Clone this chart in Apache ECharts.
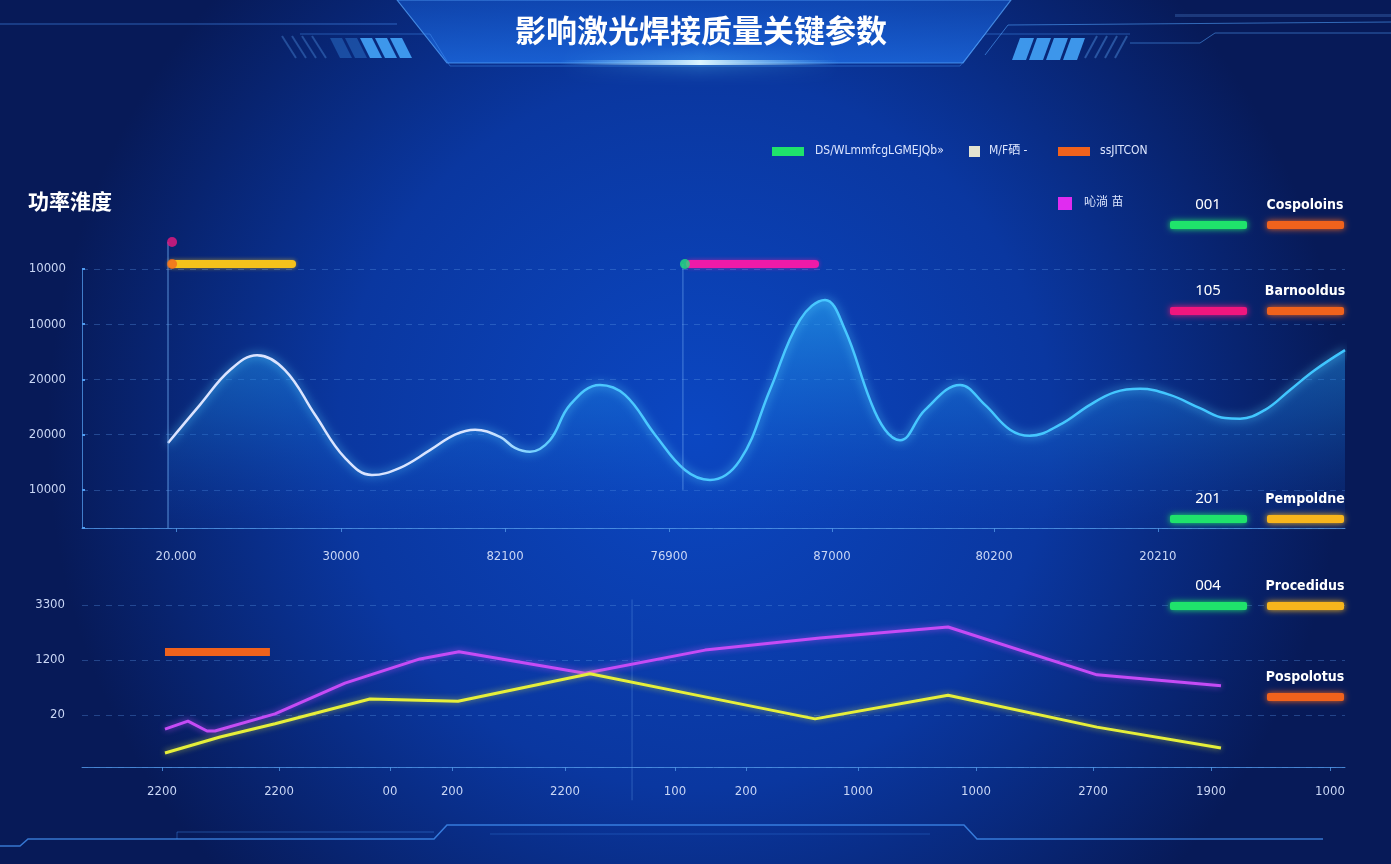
<!DOCTYPE html>
<html>
<head>
<meta charset="utf-8">
<script src="https://cdn.jsdelivr.net/npm/echarts@6/dist/echarts.min.js"></script>
<style>
html,body{margin:0;padding:0;background:#081d5e;}
#c{width:1391px;height:864px;}
</style>
</head>
<body>
<div id="c"></div>
<script>
// ---------- data ----------
const chartTitle = '影响激光焊接质量关键参数';
const subTitle = '功率淮度';

const legendNames = ['DS/WLmmfcgLGMEJQb»', 'M/F硒 -', 'ssJITCON', '吣淌 苗'];

// top chart (x in % of time span, y in axis units)
const topXTicks  = [7.44, 20.51, 33.49, 46.48, 59.38, 72.21, 85.19];
const topXLabels = ['20.000', '30000', '82100', '76900', '87000', '80200', '20210'];
const topYLabels = ['10000', '20000', '20000', '10000', '10000']; // values 1..5
const curveX = [6.81, 9.34, 11.72, 13.86, 16.07, 18.45, 20.82, 22.96, 25.18, 27.55, 29.53, 31.12, 33.10, 34.28,
                35.47, 37.05, 38.64, 41.01, 42.99, 45.37, 47.74, 49.72, 52.10, 54.47, 56.85, 58.83, 60.41, 62.39,
                63.58, 64.77, 66.75, 69.52, 71.50, 73.48, 75.06, 77.43, 79.81, 81.79, 83.77, 86.14, 88.52, 90.50,
                91.69, 93.67, 95.65, 97.62, 100];
const curveY = [1.85, 2.54, 3.17, 3.44, 3.17, 2.36, 1.58, 1.27, 1.40, 1.72, 2.00, 2.09, 1.96, 1.76,
                1.69, 1.90, 2.54, 2.90, 2.72, 2.00, 1.36, 1.18, 1.54, 2.81, 4.08, 4.44, 3.90, 2.63,
                2.09, 1.90, 2.45, 2.90, 2.54, 2.09, 1.98, 2.18, 2.54, 2.77, 2.83, 2.72, 2.48, 2.30,
                2.29, 2.45, 2.81, 3.17, 3.53];

// top annotations
const yellowBarX = [7.13, 16.63]; const yellowBarY = 5.09;
const magentaBarX = [48.14, 58.04]; const magentaBarY = 5.09;
const markerX = [7.13, 7.13, 47.74];
const markerY = [5.49, 5.09, 5.09];
const vLine1X = 6.81; const vLine1Y = [0.31, 5.49];
const vLine2X = 47.58; const vLine2Y = [1, 5.09];

// bottom chart
const botXTicks  = [6.33, 15.60, 24.39, 29.30, 38.24, 46.95, 52.57, 61.44, 70.78, 80.05, 89.39, 98.81];
const botXLabels = ['2200', '2200', '00', '200', '2200', '100', '200', '1000', '1000', '2700', '1900', '1000'];
const botYLabels = ['20', '1200', '3300']; // values 1..3
const purpleX = [6.57, 8.39, 9.90, 10.53, 15.28, 20.82, 26.76, 29.85, 39.83, 49.33, 58.43, 68.57, 80.36, 90.18];
const purpleY = [0.745, 0.89, 0.71, 0.71, 1.02, 1.58, 2.02, 2.15, 1.76, 2.18, 2.40, 2.60, 1.73, 1.53];
const yellowX = [6.57, 10.93, 15.28, 22.80, 29.77, 40.22, 49.33, 58.04, 68.57, 80.36, 90.18];
const yellowY = [0.31, 0.60, 0.84, 1.29, 1.25, 1.75, 1.33, 0.93, 1.36, 0.78, 0.40];
const orangeBarX = [6.57, 14.88]; const orangeBarY = 2.145;
const vLine3X = 43.55; const vLine3Y = [-0.55, 3.1];

// right panel
const panelNums  = ['001', '105', '201', '004', ''];
const panelNames = ['Cospoloins', 'Barnooldus', 'Pempoldne', 'Procedidus', 'Pospolotus'];
const panelColA  = ['#1fe36b', '#f0167e', '#1fe36b', '#1fe36b', null];
const panelColB  = ['#f0621c', '#f0621c', '#f7b51c', '#f7b51c', '#f0621c'];

// ---------- helpers ----------
const pairs = (xs, ys) => xs.map((x, i) => [x, ys[i]]);
const labelColor = '#c9d6f5';

const chart = echarts.init(document.getElementById('c'), null, {renderer: 'canvas'});

// ---------- graphic decorations ----------
const g = [];
// header panel
g.push({type: 'polygon', shape: {points: [[397, 0], [447, 63], [963, 63], [1011, 0]]},
  style: {fill: {type: 'linear', x: 0, y: 0, x2: 0, y2: 1, colorStops: [
    {offset: 0, color: 'rgba(20,90,210,0.55)'}, {offset: 1, color: 'rgba(30,110,230,0.75)'}]},
    stroke: 'rgba(90,170,255,0.7)', lineWidth: 1.2}, z: 1});
g.push({type: 'rect', shape: {x: 560, y: 60, width: 280, height: 5},
  style: {fill: {type: 'linear', x: 0, y: 0, x2: 1, y2: 0, colorStops: [
    {offset: 0, color: 'rgba(120,200,255,0)'}, {offset: 0.5, color: 'rgba(220,245,255,1)'}, {offset: 1, color: 'rgba(120,200,255,0)'}]},
    shadowBlur: 18, shadowColor: '#5fd0ff'}, z: 2});
// left header lines
g.push({type: 'polyline', shape: {points: [[0, 24], [397, 24]]}, style: {stroke: 'rgba(70,140,240,0.6)', lineWidth: 1}, z: 1});
g.push({type: 'polyline', shape: {points: [[300, 34], [430, 34], [450, 66], [960, 66], [985, 34], [1130, 34]]}, style: {stroke: 'rgba(70,150,250,0.45)', lineWidth: 1}, z: 1});
// left stripes
for (let i = 0; i < 5; i++) {
  const x = 330 + i * 15;
  g.push({type: 'polygon', shape: {points: [[x, 38], [x + 12, 38], [x + 22, 58], [x + 10, 58]]},
    style: {fill: i < 2 ? 'rgba(60,150,240,0.35)' : 'rgba(70,170,255,0.85)'}, z: 2});
}
for (let i = 0; i < 4; i++) {
  const x = 282 + i * 10;
  g.push({type: 'line', shape: {x1: x, y1: 36, x2: x + 14, y2: 58}, style: {stroke: 'rgba(90,160,240,0.35)', lineWidth: 2}, z: 2});
}
// right header lines
g.push({type: 'polyline', shape: {points: [[985, 55], [1008, 25], [1391, 22]]}, style: {stroke: 'rgba(80,160,250,0.6)', lineWidth: 1}, z: 1});
g.push({type: 'polyline', shape: {points: [[1130, 43], [1200, 43], [1215, 33], [1391, 33]]}, style: {stroke: 'rgba(80,160,250,0.55)', lineWidth: 1}, z: 1});
g.push({type: 'rect', shape: {x: 1175, y: 14, width: 216, height: 3}, style: {fill: 'rgba(90,150,230,0.25)'}, z: 1});
for (let i = 0; i < 4; i++) {
  const x = 1012 + i * 17;
  g.push({type: 'polygon', shape: {points: [[x + 8, 38], [x + 22, 38], [x + 14, 60], [x, 60]]},
    style: {fill: 'rgba(70,170,255,0.85)'}, z: 2});
}
for (let i = 0; i < 4; i++) {
  const x = 1085 + i * 10;
  g.push({type: 'line', shape: {x1: x + 12, y1: 36, x2: x, y2: 58}, style: {stroke: 'rgba(90,160,240,0.4)', lineWidth: 2}, z: 2});
}
// title
g.push({type: 'text', x: 701, y: 30, style: {text: chartTitle, fill: '#ffffff', font: 'bold 31px "Noto Sans CJK SC"',
  textAlign: 'center', textVerticalAlign: 'middle', shadowBlur: 8, shadowColor: 'rgba(120,200,255,0.8)'}, z: 5});
// subtitle
g.push({type: 'text', x: 28, y: 201, style: {text: subTitle, fill: '#ffffff', font: 'bold 21px "Noto Sans CJK SC"',
  textVerticalAlign: 'middle'}, z: 5});

// legend
const legItems = [
  {shape: [772, 147, 32, 9], color: '#1fe36b', tx: 815, ty: 151},
  {shape: [969, 146, 11, 11], color: '#e3e3d0', tx: 989, ty: 151},
  {shape: [1058, 147, 32, 9], color: '#f0621c', tx: 1100, ty: 151},
  {shape: [1058, 197, 14, 13], color: '#e02cf0', tx: 1084, ty: 203}
];
legItems.forEach((it, i) => {
  g.push({type: 'rect', shape: {x: it.shape[0], y: it.shape[1], width: it.shape[2], height: it.shape[3]},
    style: {fill: it.color}, z: 5});
  g.push({type: 'text', x: it.tx, y: it.ty, style: {text: legendNames[i], fill: '#dde6ff',
    font: '12px "DejaVu Sans Condensed", "Noto Sans CJK SC"', textVerticalAlign: 'middle'}, z: 5});
});

// right panel
const rowY = [205, 291, 499, 586, 677];
panelNames.forEach((nm, i) => {
  const y = rowY[i];
  if (panelNums[i]) {
    g.push({type: 'text', x: 1208, y: y, style: {text: panelNums[i], fill: '#ffffff', font: '15px "Noto Sans"',
      textAlign: 'center', textVerticalAlign: 'middle'}, z: 5});
    g.push({type: 'rect', shape: {x: 1170, y: y + 16, width: 77, height: 8, r: 2},
      style: {fill: panelColA[i], shadowBlur: 6, shadowColor: panelColA[i]}, z: 5});
  }
  g.push({type: 'text', x: 1305, y: y, style: {text: nm, fill: '#ffffff', font: 'bold 14px "DejaVu Sans Condensed"',
    textAlign: 'center', textVerticalAlign: 'middle'}, z: 5});
  g.push({type: 'rect', shape: {x: 1267, y: y + 16, width: 77, height: 8, r: 2},
    style: {fill: panelColB[i], shadowBlur: 6, shadowColor: panelColB[i]}, z: 5});
});

// bottom decoration
g.push({type: 'polyline', shape: {points: [[0, 846], [20, 846], [28, 839], [434, 839], [447, 825], [964, 825], [977, 839], [1323, 839]]},
  style: {stroke: 'rgba(70,150,250,0.75)', lineWidth: 1.5}, z: 1});
g.push({type: 'polyline', shape: {points: [[177, 839], [177, 832], [434, 832]]}, style: {stroke: 'rgba(70,150,250,0.4)', lineWidth: 1}, z: 1});
g.push({type: 'line', shape: {x1: 490, y1: 834, x2: 930, y2: 834}, style: {stroke: 'rgba(70,150,250,0.3)', lineWidth: 1}, z: 1});

// ---------- option ----------
const axisLineColor = 'rgba(80,150,230,0.8)';
const splitColor = 'rgba(90,150,230,0.35)';

const option = {
  backgroundColor: {type: 'radial', x: 0.5, y: 0.5, r: 0.75, colorStops: [
    {offset: 0, color: '#0b47c2'}, {offset: 0.55, color: '#0a37a0'}, {offset: 1, color: '#071a58'}]},
  animation: false,
  graphic: g,
  grid: [
    {left: 82, right: 46, top: 269, height: 259},
    {left: 82, right: 46, top: 605, height: 162}
  ],
  xAxis: [
    {gridIndex: 0, type: 'value', min: 0, max: 100,
      axisLine: {show: true, lineStyle: {color: axisLineColor, width: 1}},
      axisTick: {show: true, customValues: topXTicks, length: 4, lineStyle: {color: axisLineColor}},
      axisLabel: {customValues: topXTicks, color: labelColor, fontSize: 13, margin: 22, fontFamily: 'DejaVu Sans Condensed',
        formatter: v => { const i = topXTicks.indexOf(v); return i >= 0 ? topXLabels[i] : ''; }},
      splitLine: {show: false}},
    {gridIndex: 1, type: 'value', min: 0, max: 100,
      axisLine: {show: true, lineStyle: {color: axisLineColor, width: 1}},
      axisTick: {show: true, customValues: botXTicks, length: 4, lineStyle: {color: axisLineColor}},
      axisLabel: {customValues: botXTicks, color: labelColor, fontSize: 13, margin: 18, fontFamily: 'DejaVu Sans Condensed',
        formatter: v => { const i = botXTicks.indexOf(v); return i >= 0 ? botXLabels[i] : ''; }},
      splitLine: {show: false}}
  ],
  yAxis: [
    {gridIndex: 0, type: 'value', min: 0.31, max: 5, splitNumber: 5,
      axisLine: {show: true, lineStyle: {color: axisLineColor}},
      axisTick: {show: true, inside: true, length: 3, lineStyle: {color: '#4f9bf0', width: 2}},
      axisLabel: {color: labelColor, fontSize: 13, margin: 16, fontFamily: 'DejaVu Sans Condensed',
        formatter: v => Number.isInteger(v) && v >= 1 && v <= 5 ? topYLabels[v - 1] : ''},
      splitLine: {show: true, lineStyle: {color: splitColor, type: [6, 6]}}},
    {gridIndex: 1, type: 'value', min: 0.055, max: 3, splitNumber: 3,
      axisLine: {show: false},
      axisTick: {show: false},
      axisLabel: {color: labelColor, fontSize: 13, margin: 17, fontFamily: 'DejaVu Sans Condensed',
        formatter: v => Number.isInteger(v) && v >= 1 && v <= 3 ? botYLabels[v - 1] : ''},
      splitLine: {show: true, lineStyle: {color: splitColor, type: [6, 6]}}}
  ],
  series: [
    // main curve
    {type: 'line', xAxisIndex: 0, yAxisIndex: 0, data: pairs(curveX, curveY), smooth: 0.4, symbol: 'none', z: 3,
      lineStyle: {width: 2.5, color: {type: 'linear', x: 0, y: 0, x2: 1, y2: 0, colorStops: [
        {offset: 0, color: '#dbe3ff'}, {offset: 0.27, color: '#d8e4ff'}, {offset: 0.33, color: '#4cc8ff'}, {offset: 1, color: '#3fc6ff'}]},
        shadowBlur: 10, shadowColor: 'rgba(90,210,255,0.9)'},
      areaStyle: {color: {type: 'linear', x: 0, y: 0, x2: 0, y2: 1, colorStops: [
        {offset: 0, color: 'rgba(40,170,245,0.85)'}, {offset: 0.5, color: 'rgba(25,120,220,0.55)'}, {offset: 1, color: 'rgba(15,70,190,0.15)'}]}}},
    // vertical guide lines
    {type: 'line', xAxisIndex: 0, yAxisIndex: 0, data: [[vLine1X, vLine1Y[0]], [vLine1X, vLine1Y[1]]], symbol: 'none', clip: false, z: 4,
      lineStyle: {width: 1, color: 'rgba(110,170,240,0.8)'}},
    {type: 'line', xAxisIndex: 0, yAxisIndex: 0, data: [[vLine2X, vLine2Y[0]], [vLine2X, vLine2Y[1]]], symbol: 'none', clip: false, z: 4,
      lineStyle: {width: 1, color: 'rgba(110,170,240,0.6)'}},
    // annotation bars
    {type: 'line', xAxisIndex: 0, yAxisIndex: 0, data: pairs(yellowBarX, [yellowBarY, yellowBarY]), symbol: 'none', clip: false, z: 5,
      lineStyle: {width: 8, color: '#f5c21b', cap: 'round', shadowBlur: 4, shadowColor: 'rgba(245,194,27,0.6)'}},
    {type: 'line', xAxisIndex: 0, yAxisIndex: 0, data: pairs(magentaBarX, [magentaBarY, magentaBarY]), symbol: 'none', clip: false, z: 5,
      lineStyle: {width: 8, color: '#ef1aa8', cap: 'round', shadowBlur: 4, shadowColor: 'rgba(239,26,168,0.6)'}},
    {type: 'scatter', xAxisIndex: 0, yAxisIndex: 0, clip: false, z: 6, symbolSize: 10,
      data: [
        {value: [markerX[0], markerY[0]], itemStyle: {color: '#e8197e'}},
        {value: [markerX[1], markerY[1]], itemStyle: {color: '#f06a1e'}},
        {value: [markerX[2], markerY[2]], itemStyle: {color: '#26e07a'}}
      ]},
    // bottom chart
    {type: 'line', xAxisIndex: 1, yAxisIndex: 1, data: [[vLine3X, vLine3Y[0]], [vLine3X, vLine3Y[1]]], symbol: 'none', clip: false, z: 2,
      lineStyle: {width: 1, color: 'rgba(110,170,240,0.35)'}},
    {type: 'line', xAxisIndex: 1, yAxisIndex: 1, data: pairs(purpleX, purpleY), symbol: 'none', z: 4,
      lineStyle: {width: 3, color: '#c54bf5', shadowBlur: 6, shadowColor: 'rgba(200,80,255,0.7)'}},
    {type: 'line', xAxisIndex: 1, yAxisIndex: 1, data: pairs(yellowX, yellowY), symbol: 'none', z: 4,
      lineStyle: {width: 3, color: '#e6ef3a', shadowBlur: 6, shadowColor: 'rgba(230,240,60,0.6)'}},
    {type: 'line', xAxisIndex: 1, yAxisIndex: 1, data: pairs(orangeBarX, [orangeBarY, orangeBarY]), symbol: 'none', z: 5,
      lineStyle: {width: 8, color: '#f0621c'}}
  ]
};
chart.setOption(option);
</script>
</body>
</html>
